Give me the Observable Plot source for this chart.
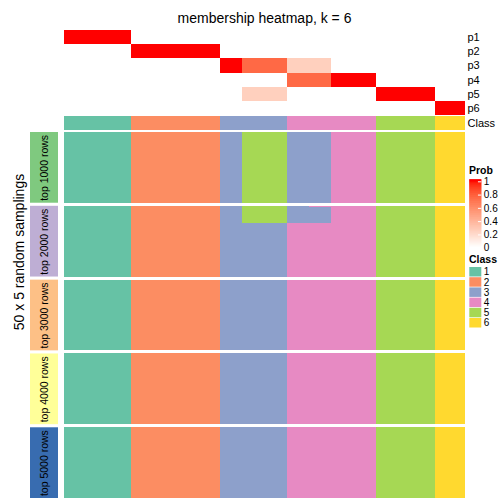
<!DOCTYPE html>
<html><head><meta charset="utf-8">
<script src="https://cdn.jsdelivr.net/npm/d3@7"></script>
<script src="https://cdn.jsdelivr.net/npm/@observablehq/plot@0.6"></script>
<style>
html,body{margin:0;padding:0;background:#fff;}
#chart{position:relative;width:504px;height:504px;overflow:hidden;font-family:"Liberation Sans",Arial,sans-serif;color:#000;}
#chart > *{position:absolute;}
.lbl{white-space:nowrap;line-height:1;}
</style></head><body><div id="chart"></div>
<script>
// ---------- data ----------
const titleText = "membership heatmap, k = 6";
const rowTitle = "50 x 5 random samplings";
const probRows = ["p1","p2","p3","p4","p5","p6"];
const classes = [1,2,3,4,5,6];
const classColors = ["#66C2A5","#FC8D62","#8DA0CB","#E78AC3","#A6D854","#FFD92F"];
// sample columns grouped (left to right)
const groupSizes = [9, 12, 3, 6, 3, 3, 6, 8, 4];
const groupClass = [1, 2, 3, 3, 4, 4, 4, 5, 6];
const p1 = [1, 0, 0, 0,    0,    0,    0, 0, 0];
const p2 = [0, 1, 0, 0,    0,    0,    0, 0, 0];
const p3 = [0, 0, 1, 0.75, 0.25, 0.25, 0, 0, 0];
const p4 = [0, 0, 0, 0,    0.75, 0.75, 1, 0, 0];
const p5 = [0, 0, 0, 0.25, 0,    0,    0, 1, 0];
const p6 = [0, 0, 0, 0,    0,    0,    0, 0, 1];
// class calls per group in the random samplings
const patternA = [1, 2, 3, 5, 3, 3, 4, 5, 6];
const patternB = [1, 2, 3, 5, 3, 4, 4, 5, 6];
const blocks = ["top 1000 rows","top 2000 rows","top 3000 rows","top 4000 rows","top 5000 rows"];
const blockColors = ["#7FC97F","#BEAED4","#FDC086","#FFFF99","#386CB0"];
const runs1000 = [[50, patternA]];
const runs2000 = [[1, patternB], [11, patternA], [38, groupClass]];
const runs3000 = [[50, groupClass]];
const runs4000 = [[50, groupClass]];
const runs5000 = [[50, groupClass]];
const probTicks = [0, 0.2, 0.4, 0.6, 0.8, 1];

// ---------- build tables ----------
const blockRuns = [runs1000, runs2000, runs3000, runs4000, runs5000];
const probByRow = [p1, p2, p3, p4, p5, p6];
const samples = [];
groupSizes.forEach((n, g) => { for (let k = 0; k < n; k++) samples.push({id: samples.length, g}); });
const sampleIds = samples.map(s => s.id);

const probData = [];
samples.forEach(s => probRows.forEach((p, j) => probData.push({sample: s.id, row: p, value: probByRow[j][s.g]})));
const classData = samples.map(s => ({sample: s.id, row: "Class", cls: groupClass[s.g]}));

const memData = [];
let rowIds = [];
blocks.forEach((b, bi) => {
  let r = 0;
  blockRuns[bi].forEach(([n, pattern]) => {
    for (let k = 0; k < n; k++, r++) {
      samples.forEach(s => memData.push({block: b, row: r, sample: s.id, cls: pattern[s.g]}));
    }
  });
  if (r > rowIds.length) rowIds = d3.range(r);
});

const FONT = "Liberation Sans, Arial, sans-serif";
const chart = document.getElementById("chart");
function place(el, left, top) {
  el.style.position = "absolute";
  el.style.left = left + "px";
  el.style.top = top + "px";
  chart.appendChild(el);
}
function label(text, left, top, css) {
  const d = document.createElement("div");
  d.className = "lbl";
  d.textContent = text;
  Object.assign(d.style, css || {});
  place(d, left, top);
  return d;
}

// title
label(titleText, 64, 11, {width: "401px", textAlign: "center", fontSize: "14px"});

// probability rows
place(Plot.plot({
  width: 440, height: 85, marginLeft: 0, marginRight: 39, marginTop: 0, marginBottom: 0,
  x: {type: "band", domain: sampleIds, padding: 0, round: false, axis: null},
  y: {type: "band", domain: probRows, padding: 0, round: false, axis: "right", tickSize: 0, tickPadding: 2, label: null},
  color: {type: "linear", domain: [0, 1], range: ["white", "red"], interpolate: "lab"},
  style: {fontFamily: FONT, fontSize: "11px", background: "transparent", overflow: "visible"},
  marks: [Plot.cell(probData, {x: "sample", y: "row", fill: "value", shapeRendering: "crispEdges"})]
}), 64, 30);

// class annotation row
place(Plot.plot({
  width: 440, height: 14, marginLeft: 0, marginRight: 39, marginTop: 0, marginBottom: 0,
  x: {type: "band", domain: sampleIds, padding: 0, round: false, axis: null},
  y: {type: "band", domain: ["Class"], padding: 0, round: false, axis: "right", tickSize: 0, tickPadding: 2, label: null},
  color: {type: "ordinal", domain: classes, range: classColors},
  style: {fontFamily: FONT, fontSize: "11px", background: "transparent", overflow: "visible"},
  marks: [Plot.cell(classData, {x: "sample", y: "row", fill: "cls", shapeRendering: "crispEdges"})]
}), 64, 116);

// main membership heatmap
place(Plot.plot({
  width: 401, height: 366, margin: 0,
  x: {type: "band", domain: sampleIds, padding: 0, round: false, axis: null},
  y: {type: "band", domain: rowIds, padding: 0, round: false, axis: null},
  fy: {domain: blocks, paddingInner: 0.042, paddingOuter: 0, round: false, axis: null},
  color: {type: "ordinal", domain: classes, range: classColors},
  style: {background: "transparent"},
  marks: [Plot.cell(memData, {x: "sample", y: "row", fy: "block", fill: "cls", shapeRendering: "crispEdges"})]
}), 64, 132);

// block labels column
place(Plot.plot({
  width: 28, height: 366, margin: 0,
  x: {type: "band", domain: ["lab"], padding: 0, round: false, axis: null},
  fy: {domain: blocks, paddingInner: 0.042, paddingOuter: 0, round: false, axis: null},
  color: {type: "ordinal", domain: blocks, range: blockColors},
  style: {fontFamily: FONT, background: "transparent", overflow: "visible"},
  marks: [
    Plot.cell(blocks, {x: () => "lab", fy: d => d, fill: d => d}),
    Plot.text(blocks, {x: () => "lab", fy: d => d, text: d => d, rotate: -90, fontSize: 10.5, fill: "black"})
  ]
}), 30, 132);

// row title
label(rowTitle, -131, 245, {width: "300px", textAlign: "center", fontSize: "14px", lineHeight: "14px", transform: "rotate(-90deg)", transformOrigin: "50% 50%"});

// Prob legend
label("Prob", 469, 164.5, {fontSize: "10.5px", fontWeight: "bold"});
const gradSteps = d3.range(-0.04, 1.04, 0.01);
place(Plot.plot({
  width: 36, height: 76, marginLeft: 1.3, marginRight: 22.7, marginTop: 4.3, marginBottom: 5.3,
  x: {domain: [0, 1], axis: null},
  y: {domain: [0, 1], axis: null},
  color: {type: "linear", domain: [0, 1], range: ["white", "red"], interpolate: "lab", clamp: true},
  style: {fontFamily: FONT, fontSize: "10px", background: "transparent", overflow: "visible"},
  marks: [
    Plot.rect(gradSteps, {x1: 0, x2: 1, y1: d => Math.max(d, -0.03), y2: d => Math.min(d + 0.02, 1.03), fill: d => d}),
    Plot.ruleY(probTicks, {y: d => d, x1: 0.72, x2: 1, stroke: "white", strokeWidth: 1}),
    Plot.axisY(probTicks, {anchor: "right", tickSize: 0, tickPadding: 2, label: null, tickFormat: d => String(d)})
  ]
}), 468, 176.5);

// Class legend
label("Class", 469, 253.8, {fontSize: "10.5px", fontWeight: "bold"});
place(Plot.plot({
  width: 36, height: 60.5, marginLeft: 1.3, marginRight: 22.7, marginTop: 0, marginBottom: 0,
  x: {type: "band", domain: ["sw"], padding: 0, round: false, axis: null},
  y: {type: "band", domain: classes, paddingInner: 0.07, paddingOuter: 0, round: false, axis: "right", tickSize: 0, tickPadding: 2, label: null},
  color: {type: "ordinal", domain: classes, range: classColors},
  style: {fontFamily: FONT, fontSize: "10px", background: "transparent", overflow: "visible"},
  marks: [Plot.cell(classes, {x: () => "sw", y: d => d, fill: d => d})]
}), 468, 267);
</script></body></html>
